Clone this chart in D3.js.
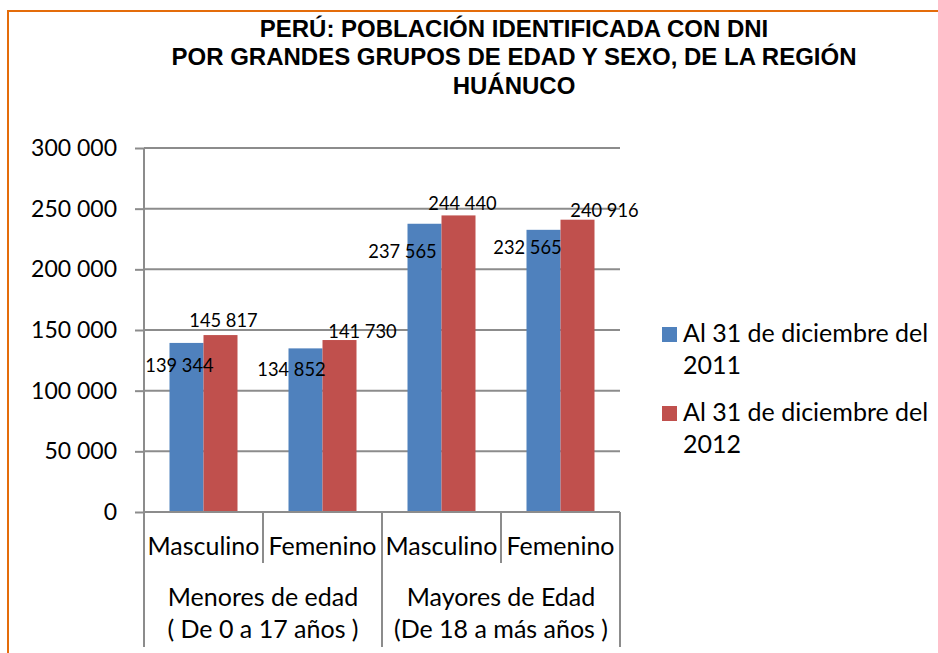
<!DOCTYPE html>
<html>
<head>
<meta charset="utf-8">
<script src="https://cdn.jsdelivr.net/npm/d3@7"></script>
<style>
  body { margin: 0; background: #fff; }
  text { font-family: Lato, "Open Sans", sans-serif; fill: #000; }
</style>
</head>
<body>
<script>
// chart data
const categories = ['Masculino', 'Femenino', 'Masculino', 'Femenino'];
const groups = ['Menores de edad|( De 0 a 17 años )', 'Mayores de Edad|(De 18 a más años )'];
const seriesNames = ['Al 31 de diciembre del|2011', 'Al 31 de diciembre del|2012'];
const values2011 = [139344, 134852, 237565, 232565];
const values2012 = [145817, 141730, 244440, 240916];
const yTicks = [0, 50000, 100000, 150000, 200000, 250000, 300000];
const colors = ['#4F81BD', '#C0504D'];

// hand-placed label offsets (dx, dy from bar top), like the original
const labelNudge = [
  [[-7, 29], [3, -8]],
  [[-14, 28], [23, -2]],
  [[-22, 34], [4, -5]],
  [[-16, 24], [27, -3]]
];

const width = 938, height = 653;
const plotLeft = 144, plotRight = 620, plotTop = 148, plotBottom = 512;
const axisColor = '#8c8c8c';

const svg = d3.select('body').append('svg')
  .attr('width', width)
  .attr('height', height);

// orange frame
svg.append('path')
  .attr('d', `M8,${height} V11 H${width}`)
  .attr('fill', 'none')
  .attr('stroke', '#E46C0A')
  .attr('stroke-width', 2);

// title
const title = ['PERÚ: POBLACIÓN IDENTIFICADA CON DNI',
  'POR GRANDES GRUPOS DE EDAD Y SEXO, DE LA REGIÓN', 'HUÁNUCO'];
svg.append('g').selectAll('text')
  .data(title)
  .join('text')
  .attr('x', 514)
  .attr('y', (d, i) => 37 + i * 28.3)
  .attr('text-anchor', 'middle')
  .style('font-family', '"Liberation Sans", Arial, sans-serif')
  .style('font-weight', 'bold')
  .style('font-size', '24px')
  .text(d => d);

// scales
const x = d3.scaleBand()
  .domain(d3.range(categories.length))
  .range([plotLeft, plotRight])
  .padding(0);

const xSub = d3.scaleBand()
  .domain([0, 1])
  .range([0, x.bandwidth()])
  .paddingInner(0)
  .paddingOuter(0.75);

const y = d3.scaleLinear()
  .domain([0, 300000])
  .range([plotBottom, plotTop]);

const fmt = v => d3.format(',')(v).replace(/,/g, ' ');

// gridlines
svg.append('g').selectAll('line')
  .data(yTicks.slice(1))
  .join('line')
  .attr('x1', plotLeft).attr('x2', plotRight)
  .attr('y1', d => y(d)).attr('y2', d => y(d))
  .attr('stroke', axisColor)
  .attr('stroke-width', 2);

// y axis
const yAxis = svg.append('g')
  .attr('transform', `translate(${plotLeft},0)`)
  .call(d3.axisLeft(y).tickValues(yTicks).tickFormat(fmt).tickSize(9).tickPadding(18));
yAxis.select('.domain').remove();
yAxis.selectAll('line').attr('stroke', axisColor).attr('stroke-width', 2);
yAxis.selectAll('text')
  .style('font-family', 'Lato, sans-serif')
  .style('font-size', '23px')
  .attr('fill', '#000');

// bars
const data = categories.map((c, i) => ({ i, vals: [values2011[i], values2012[i]] }));
const barGroups = svg.append('g').selectAll('g')
  .data(data)
  .join('g')
  .attr('transform', d => `translate(${x(d.i)},0)`);

barGroups.selectAll('rect')
  .data(d => d.vals.map((v, s) => ({ v, s, i: d.i })))
  .join('rect')
  .attr('x', d => xSub(d.s))
  .attr('width', xSub.bandwidth())
  .attr('y', d => y(d.v))
  .attr('height', d => plotBottom - y(d.v))
  .attr('fill', d => colors[d.s]);

// data labels
barGroups.selectAll('text')
  .data(d => d.vals.map((v, s) => ({ v, s, i: d.i })))
  .join('text')
  .attr('x', d => xSub(d.s) + xSub.bandwidth() / 2 + labelNudge[d.i][d.s][0])
  .attr('y', d => y(d.v) + labelNudge[d.i][d.s][1])
  .attr('text-anchor', 'middle')
  .style('font-size', '18.3px')
  .text(d => fmt(d.v));

// y axis line and category axis line
svg.append('line')
  .attr('x1', plotLeft).attr('x2', plotLeft)
  .attr('y1', plotTop).attr('y2', 647)
  .attr('stroke', axisColor).attr('stroke-width', 2);
svg.append('line')
  .attr('x1', plotLeft).attr('x2', plotRight)
  .attr('y1', plotBottom).attr('y2', plotBottom)
  .attr('stroke', axisColor).attr('stroke-width', 2);

// category dividers: short inside groups, long between groups
const dividers = d3.range(categories.length + 1);
svg.append('g').selectAll('line')
  .data(dividers)
  .join('line')
  .attr('x1', d => plotLeft + d * x.step())
  .attr('x2', d => plotLeft + d * x.step())
  .attr('y1', plotBottom)
  .attr('y2', d => d % 2 === 0 ? 647 : 563)
  .attr('stroke', axisColor)
  .attr('stroke-width', 2);

// category labels
svg.append('g').selectAll('text')
  .data(categories)
  .join('text')
  .attr('x', (d, i) => x(i) + x.bandwidth() / 2)
  .attr('y', 555)
  .attr('text-anchor', 'middle')
  .style('font-size', '25px')
  .text(d => d);

// group labels
const groupText = svg.append('g').selectAll('text')
  .data(groups)
  .join('text')
  .attr('text-anchor', 'middle')
  .style('font-size', '25px');
groupText.selectAll('tspan')
  .data((d, gi) => d.split('|').map(t => ({ t, gi })))
  .join('tspan')
  .attr('x', d => x(d.gi * 2) + x.bandwidth())
  .attr('y', (d, k) => 606 + k * 31.5)
  .text(d => d.t);

// legend
const legend = svg.append('g').selectAll('g')
  .data(seriesNames)
  .join('g')
  .attr('transform', (d, i) => `translate(662,${327 + i * 79})`);
legend.append('rect')
  .attr('width', 15).attr('height', 15)
  .attr('fill', (d, i) => colors[i]);
const legText = legend.append('text')
  .style('font-size', '25px');
legText.selectAll('tspan')
  .data(d => d.split('|'))
  .join('tspan')
  .attr('x', 21)
  .attr('y', (d, k) => 15 + k * 31.5)
  .text(d => d);
</script>
</body>
</html>
